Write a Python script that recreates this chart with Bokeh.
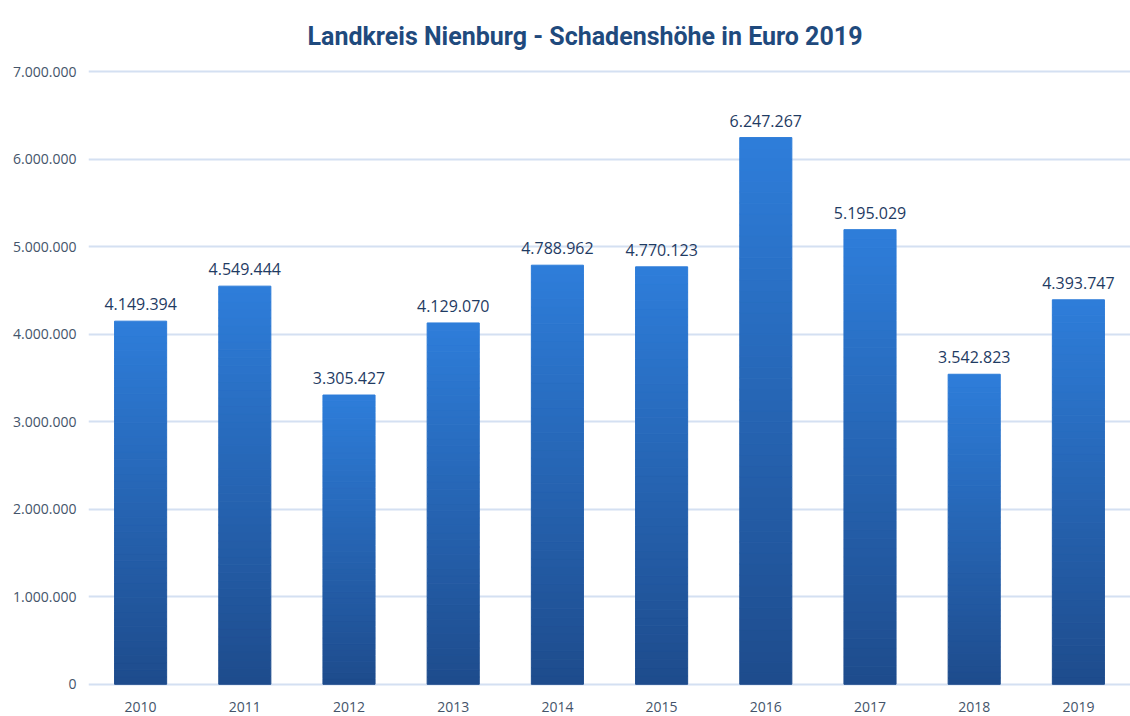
from bokeh.plotting import figure
from bokeh.models import FixedTicker, ColumnDataSource, Range1d
from bokeh.embed import file_html
from bokeh.resources import INLINE
from bokeh.core.properties import value

years = ["2010", "2011", "2012", "2013", "2014", "2015", "2016", "2017", "2018", "2019"]
damages = [4149394, 4549444, 3305427, 4129070, 4788962, 4770123, 6247267, 5195029, 3542823, 4393747]
y_ticks = [0, 1000000, 2000000, 3000000, 4000000, 5000000, 6000000, 7000000]
y_tick_labels = ["0", "1.000.000", "2.000.000", "3.000.000", "4.000.000", "5.000.000", "6.000.000", "7.000.000"]
title_text = "Landkreis Nienburg - Schadenshöhe in Euro 2019"

TITLE_FONT = "Roboto"
BODY_FONT = "Open Sans"

p = figure(x_range=years, y_range=Range1d(-25000, 7025000), width=1130, height=716,
           output_backend="svg", toolbar_location=None,
           min_border_left=88, min_border_right=0, min_border_top=68, min_border_bottom=30)
p.title.text = title_text
p.title.align = "left"
p.title.vertical_align = "bottom"
p.title.offset = 219
p.title.text_font = TITLE_FONT
p.title.text_font_size = "25px"
p.title.text_font_style = "bold"
p.title.text_color = "#1F4A7D"
p.title.standoff = 38

# gradient bars built from stacked slices
N = 50
top_c = (0x2E, 0x7D, 0xDA)
bot_c = (0x1E, 0x4C, 0x8C)
xs, bottoms, tops, colors = [], [], [], []
for yr, v in zip(years, damages):
    for i in range(N):
        f = (i + 0.5) / N
        c = tuple(int(round(bot_c[k] + (top_c[k] - bot_c[k]) * f)) for k in range(3))
        xs.append(yr)
        bottoms.append(v * i / N)
        tops.append(v * (i + 1) / N)
        colors.append("#%02x%02x%02x" % c)
src = ColumnDataSource(dict(x=xs, bottom=bottoms, top=tops, color=colors))
p.vbar(x="x", bottom="bottom", top="top", width=0.5, fill_color="color", line_color="color",
       line_width=1, source=src)

labels = [f"{v:,}".replace(",", ".") for v in damages]
lsrc = ColumnDataSource(dict(x=years, y=damages, t=labels))
p.text(x="x", y="y", text="t", source=lsrc, text_align="center", text_baseline="bottom",
       y_offset=-11, text_font=value(BODY_FONT), text_font_size="16px", text_color="#1F3B63")

p.yaxis.ticker = FixedTicker(ticks=y_ticks)
p.yaxis.major_label_overrides = {t: l for t, l in zip(y_ticks, y_tick_labels)}
for ax in (p.xaxis, p.yaxis):
    ax.axis_line_color = None
    ax.major_tick_line_color = None
    ax.minor_tick_line_color = None
    ax.major_tick_out = 0
    ax.major_tick_in = 0
    ax.minor_tick_out = 0
    ax.major_label_text_font = BODY_FONT
    ax.major_label_text_font_size = "14px"
    ax.major_label_text_color = "#44546A"
p.yaxis.major_label_standoff = 12
p.xaxis.major_label_standoff = 15

p.xgrid.grid_line_color = None
p.ygrid.ticker = FixedTicker(ticks=y_ticks)
p.ygrid.grid_line_color = "#D4E0F2"
p.ygrid.grid_line_width = 2
p.outline_line_color = None

open("out.html", "w").write(file_html(p, INLINE))
